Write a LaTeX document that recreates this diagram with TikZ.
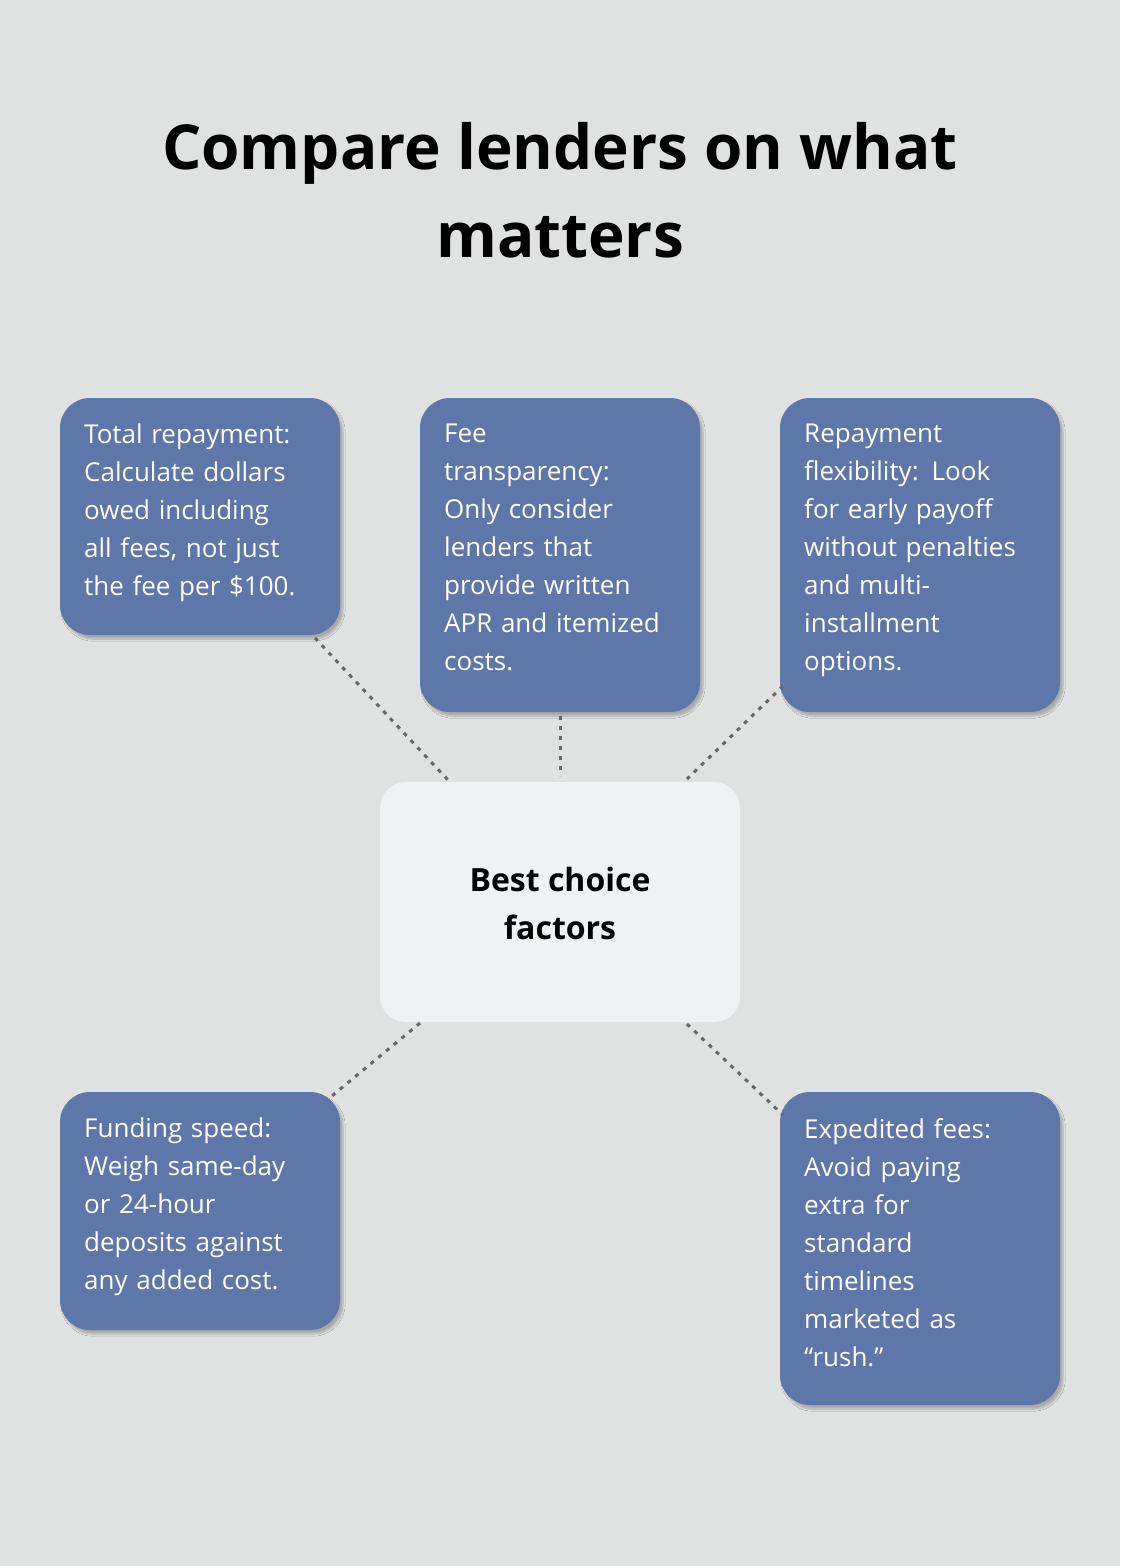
\documentclass[tikz,border=0pt]{standalone}
\usepackage{fontspec}
\setmainfont{Open Sans}
\usetikzlibrary{shadows.blur}
\definecolor{bg}{HTML}{E0E2E1}
\definecolor{boxb}{HTML}{5C77A8}
\definecolor{cbox}{HTML}{F0F1F3}
\begin{document}
\begin{tikzpicture}[x=1pt,y=-1pt,
 card/.style={fill=boxb,rounded corners=30pt,draw=none,blur shadow={shadow blur steps=6,shadow xshift=3pt,shadow yshift=-4pt,shadow opacity=25}},
 txt/.style={anchor=north west,align=left,text width=250pt,font=\fontsize{26}{38}\selectfont,text=white,inner sep=0pt},
 link/.style={draw=black!60,line width=3pt,dash pattern=on 4pt off 6pt}]
\fill[bg] (0,0) rectangle (1120,1566);
\node[font=\fontsize{62}{88}\selectfont\bfseries,align=center] (title) at (560,190) {Compare lenders on what\\matters};
\path[card] (60,398) rectangle (340,635);
\path[card] (420,398) rectangle (700,712);
\path[card] (780,398) rectangle (1060,712);
\path[card] (60,1092) rectangle (340,1330);
\path[card] (780,1092) rectangle (1060,1405);
\path[fill=cbox,rounded corners=26pt] (380,782) rectangle (740,1022);
\node[txt] (t1) at (84,424) {Total repayment:\\Calculate dollars\\owed including\\all fees, not just\\the fee per \$100.};
\node[txt] (t2) at (444,424) {Fee\\transparency:\\Only consider\\lenders that\\provide written\\APR and itemized\\costs.};
\node[txt] (t3) at (804,424) {Repayment\\flexibility: Look\\for early payoff\\without penalties\\and multi-\\installment\\options.};
\node[txt] (t4) at (84,1118) {Funding speed:\\Weigh same-day\\or 24-hour\\deposits against\\any added cost.};
\node[txt] (t5) at (804,1118) {Expedited fees:\\Avoid paying\\extra for\\standard\\timelines\\marketed as\\“rush.”};
\node[font=\fontsize{32}{48}\selectfont\bfseries,align=center] (c) at (560,903) {Best choice\\factors};
\coordinate (a1) at (315,638); \coordinate (c1) at (448,780);
\coordinate (a2) at (560,716); \coordinate (c2) at (560,776);
\coordinate (a3) at (783,686); \coordinate (c3) at (687,779);
\coordinate (a4) at (327,1100); \coordinate (c4) at (420,1023);
\coordinate (a5) at (783,1115); \coordinate (c5) at (687,1024);
\draw[link] (a1) -- (c1);
\draw[link] (a2) -- (c2);
\draw[link] (a3) -- (c3);
\draw[link] (c4) -- (a4);
\draw[link] (c5) -- (a5);
\end{tikzpicture}
\end{document}
